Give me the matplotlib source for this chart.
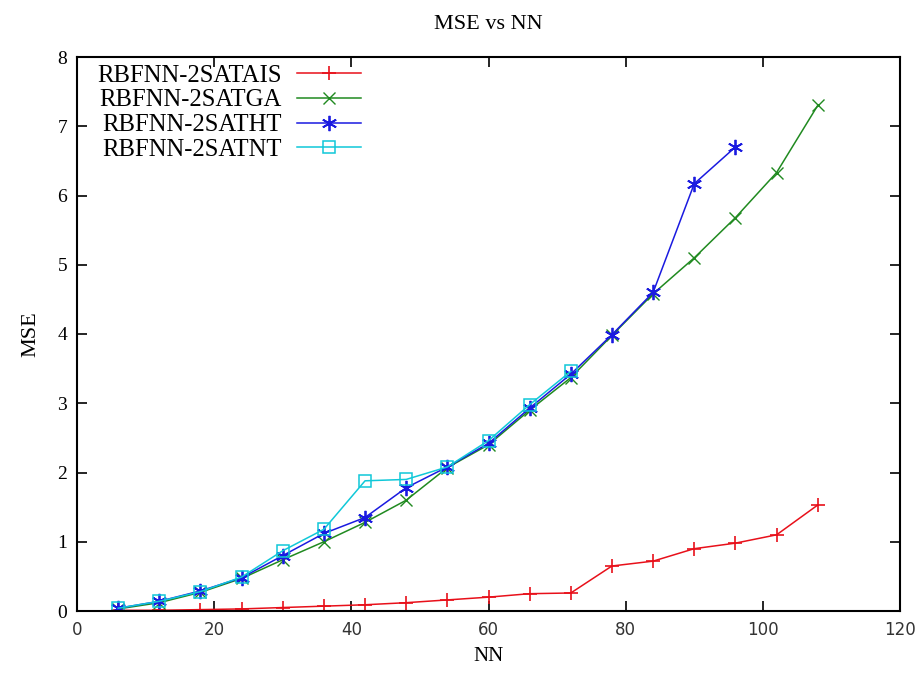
import numpy as np
import matplotlib
matplotlib.use('Agg')
import matplotlib.pyplot as plt

nn = [6, 12, 18, 24, 30, 36, 42, 48, 54, 60, 66, 72, 78, 84, 90, 96, 102, 108]

mse_ais = [0.01, 0.01, 0.02, 0.03, 0.05, 0.07, 0.09, 0.12, 0.16, 0.20, 0.25, 0.26,
           0.65, 0.72, 0.90, 0.98, 1.10, 1.53]
mse_ga = [0.03, 0.12, 0.27, 0.47, 0.74, 1.00, 1.28, 1.60, 2.07, 2.40, 2.90, 3.37,
          3.98, 4.58, 5.10, 5.68, 6.33, 7.30]
mse_ht = [0.04, 0.14, 0.29, 0.48, 0.80, 1.12, 1.35, 1.78, 2.08, 2.42, 2.93, 3.42,
          3.99, 4.60, 6.17, 6.70]
mse_nt = [0.04, 0.14, 0.28, 0.49, 0.87, 1.18, 1.88, 1.90, 2.08, 2.46, 2.98, 3.46]

labels = ['RBFNN-2SATAIS', 'RBFNN-2SATGA', 'RBFNN-2SATHT', 'RBFNN-2SATNT']

serif = 'Liberation Serif'

fig = plt.figure(figsize=(9.21, 6.77), dpi=100)
ax = fig.add_axes([77/921, 1-611/677, (900-77)/921, (611-57)/677])

ax.plot(nn[:len(mse_ais)], mse_ais, color='#e8101a', lw=1.1, marker='+', ms=10, mew=1.2, label=labels[0])
ax.plot(nn[:len(mse_ga)], mse_ga, color='#208a20', lw=1.1, marker='x', ms=9, mew=1.0, label=labels[1])
ax.plot(nn[:len(mse_ht)], mse_ht, color='#1a1ae0', lw=1.1, marker=(6, 2, 0), ms=11, mew=1.3, label=labels[2])
ax.plot(nn[:len(mse_nt)], mse_nt, color='#10c8d8', lw=1.1, marker='s', ms=9, mfc='none', mew=1.1, label=labels[3])

ax.set_xlim(0, 120)
ax.set_ylim(0, 8)
ax.set_xticks(np.arange(0, 121, 20))
ax.set_yticks(np.arange(0, 9, 1))
ax.tick_params(direction='in', length=7, width=1.2, top=True, right=True, pad=7)
for lbl in ax.get_yticklabels():
    lbl.set_fontfamily(serif)
    lbl.set_fontsize(14)
for lbl in ax.get_xticklabels():
    lbl.set_fontfamily('DejaVu Sans')
    lbl.set_fontsize(12)
    lbl.set_color('#333333')
for s in ax.spines.values():
    s.set_linewidth(1.5)

ax.set_title('MSE vs NN', fontfamily=serif, fontsize=16, pad=20)
ax.set_xlabel('NN', fontfamily=serif, fontsize=15, labelpad=6)
ax.set_ylabel('MSE', fontfamily=serif, fontsize=16, labelpad=12)

leg = ax.legend(loc='upper left', bbox_to_anchor=(0.004, 1.018), frameon=False, markerfirst=False,
                prop={'family': serif, 'size': 17.8}, handlelength=2.6, labelspacing=0.1,
                borderaxespad=0.3, handletextpad=0.6)
for t in leg.get_texts():
    t.set_ha('right')

fig.savefig('out.png', dpi=100)
